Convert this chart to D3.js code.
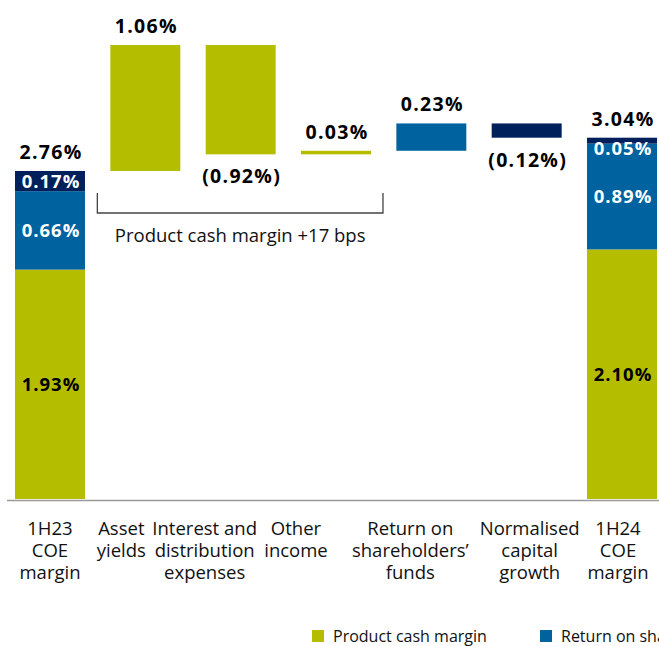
<!DOCTYPE html>
<html>
<head>
<meta charset="utf-8">
<script src="https://cdn.jsdelivr.net/npm/d3@7"></script>
<style>
  body { margin: 0; background: #fff; overflow: hidden; }
  svg { display: block; font-family: "Open Sans", "Noto Sans", sans-serif; }
</style>
</head>
<body>
<script>
(function(){

//category labels, one entry per bar, split into lines
var categories = [
    ["1H23", "COE", "margin"],
    ["Asset", "yields"],
    ["Interest and", "distribution", "expenses"],
    ["Other", "income"],
    ["Return on", "shareholders\u2019", "funds"],
    ["Normalised", "capital", "growth"],
    ["1H24", "COE", "margin"]
];

//series names (legend)
var seriesNames = ["Product cash margin", "Return on shareholders\u2019 funds", "Normalised capital growth"];

//opening and closing totals, split by series (bottom to top)
var startTotal = [1.93, 0.66, 0.17];
var endTotal = [2.10, 0.89, 0.05];

//movements between the two totals, and the series each belongs to
var movements = [1.06, -0.92, 0.03, 0.23, -0.12];
var movementSeries = [0, 0, 0, 1, 2];

var colors = ["#b5bd00", "#00629e", "#00205b"];

//labels under the axis are not quite centred on their bars
var labelShift = [0, -24, -36, -40, -21, 3, -4];

window.onload = drawChart();

function fmt(v){
    var s = Math.abs(v).toFixed(2) + "%";
    return v < 0 ? "(" + s + ")" : s;
}

function drawChart(){
    var width = 659,
        height = 646;

    var svg = d3.select("body")
        .append("svg")
        .attr("width", width)
        .attr("height", height);

    var x = d3.scaleBand()
        .domain(d3.range(categories.length))
        .range([15, 657])
        .paddingInner(0.266)
        .paddingOuter(0);

    var y = d3.scaleLinear()
        .domain([0, 3.82])
        .range([499, 45]);

    //build segments
    var segs = [];
    var cum = 0;
    startTotal.forEach(function(v, i){
        segs.push({col: 0, y0: cum, y1: cum + v, s: i, v: v, inside: true});
        cum += v;
    });
    var startSum = cum;
    var level = startSum;
    movements.forEach(function(v, i){
        segs.push({col: i + 1, y0: level, y1: level + v, s: movementSeries[i], v: v, inside: false});
        level += v;
    });
    cum = 0;
    endTotal.forEach(function(v, i){
        segs.push({col: categories.length - 1, y0: cum, y1: cum + v, s: i, v: v, inside: true});
        cum += v;
    });
    var endSum = cum;

    //bars
    svg.selectAll(".seg")
        .data(segs)
        .enter()
        .append("rect")
        .attr("class", "seg")
        .attr("x", function(d){ return x(d.col); })
        .attr("width", x.bandwidth())
        .attr("y", function(d){ return y(Math.max(d.y0, d.y1)); })
        .attr("height", function(d){ return Math.abs(y(d.y0) - y(d.y1)); })
        .style("fill", function(d){ return colors[d.s]; });

    //labels inside total bars
    svg.selectAll(".inlab")
        .data(segs.filter(function(d){ return d.inside; }))
        .enter()
        .append("text")
        .attr("class", "inlab")
        .attr("x", function(d){ return x(d.col) + x.bandwidth() / 2 + 1; })
        .attr("y", function(d){
            var top = y(d.y1), bot = y(d.y0);
            return Math.max((top + bot) / 2, top + 11);
        })
        .attr("dy", "0.35em")
        .attr("text-anchor", "middle")
        .style("font-size", "18.5px")
        .style("letter-spacing", "1px")
        .style("font-weight", "bold")
        .style("fill", function(d){ return d.s === 0 ? "#000" : "#fff"; })
        .text(function(d){ return fmt(d.v); });

    //total labels
    var totals = [{col: 0, v: startSum}, {col: categories.length - 1, v: endSum}];
    svg.selectAll(".totlab")
        .data(totals)
        .enter()
        .append("text")
        .attr("class", "totlab")
        .attr("x", function(d){ return x(d.col) + x.bandwidth() / 2 + 1; })
        .attr("y", function(d){ return y(d.v) - 12; })
        .attr("text-anchor", "middle")
        .style("font-size", "19.5px")
        .style("letter-spacing", "1.3px")
        .style("font-weight", "bold")
        .text(function(d){ return fmt(d.v); });

    //movement labels
    svg.selectAll(".movlab")
        .data(segs.filter(function(d){ return !d.inside; }))
        .enter()
        .append("text")
        .attr("class", "movlab")
        .attr("x", function(d){ return x(d.col) + x.bandwidth() / 2 + 1; })
        .attr("y", function(d){
            return d.v >= 0 ? y(d.y1) - 12 : y(d.y1) + 29;
        })
        .attr("text-anchor", "middle")
        .style("font-size", "19.5px")
        .style("letter-spacing", "1.3px")
        .style("font-weight", "bold")
        .text(function(d){ return fmt(d.v); });

    //baseline
    svg.append("line")
        .attr("x1", 7)
        .attr("x2", width)
        .attr("y1", y(0) + 1.5)
        .attr("y2", y(0) + 1.5)
        .style("stroke", "#9a9a9a")
        .style("stroke-width", 1.5);

    //category labels
    var cats = svg.selectAll(".cat")
        .data(categories)
        .enter()
        .append("text")
        .attr("class", "cat")
        .attr("text-anchor", "middle")
        .style("font-size", "18.5px")
        .style("fill", "#111");
    cats.selectAll("tspan")
        .data(function(d, i){ return d.map(function(t){ return {t: t, i: i}; }); })
        .enter()
        .append("tspan")
        .attr("x", function(d){ return x(d.i) + x.bandwidth() / 2 + labelShift[d.i]; })
        .attr("y", function(d, j){ return 535 + j * 22; })
        .text(function(d){ return d.t; });

    //bracket over the product cash margin movements
    var bx0 = x(1) - 13,
        bx1 = x(3) + x.bandwidth() + 12,
        byTop = 193,
        byBot = 213;
    svg.append("path")
        .attr("d", "M" + bx0 + "," + byTop + "V" + byBot + "H" + bx1 + "V" + byTop)
        .style("fill", "none")
        .style("stroke", "#444")
        .style("stroke-width", 1.3);
    var pcm = d3.sum(movements.filter(function(d, i){ return movementSeries[i] === 0; }));
    svg.append("text")
        .attr("x", (bx0 + bx1) / 2)
        .attr("y", 242)
        .attr("text-anchor", "middle")
        .style("font-size", "18.5px")
        .style("fill", "#111")
        .text("Product cash margin +" + Math.round(pcm * 100) + " bps");

    //legend
    var legX = [312, 540, 820];
    var leg = svg.selectAll(".leg")
        .data(seriesNames)
        .enter()
        .append("g")
        .attr("class", "leg")
        .attr("transform", function(d, i){ return "translate(" + legX[i] + ",630)"; });
    leg.append("rect")
        .attr("width", 12)
        .attr("height", 12)
        .style("fill", function(d, i){ return colors[i]; });
    leg.append("text")
        .attr("x", 21)
        .attr("y", 12)
        .style("font-size", "16px")
        .style("fill", "#111")
        .text(function(d){ return d; });
};

})();
</script>
</body>
</html>
